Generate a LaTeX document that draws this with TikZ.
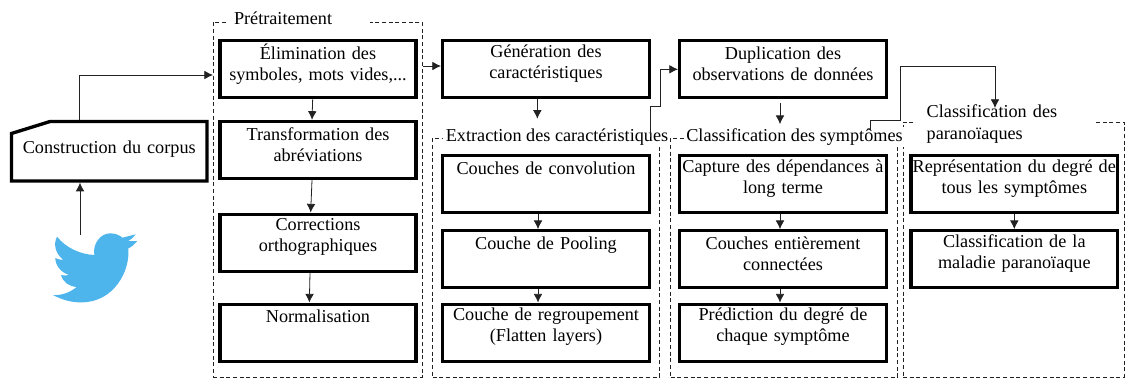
\documentclass[tikz,border=0pt]{standalone}
\usepackage{fontspec}
\setmainfont{Liberation Serif}
\usetikzlibrary{arrows.meta}
\definecolor{oiseau}{HTML}{4DB5EC}
\definecolor{trait}{HTML}{222222}
\tikzset{
	boite/.style={draw=black,line width=2.5pt,minimum height=42.75pt,inner sep=0pt,align=center,text width=155pt,font=\fontsize{13.65}{15.75}\selectfont,execute at end node={\par\vspace{8.4pt}}},
	etroite/.style={boite,text width=147pt},
	cadre/.style={draw=trait,line width=0.55pt,dash pattern=on 3pt off 2pt,inner sep=0pt},
	titre/.style={fill=white,inner ysep=1pt,inner xsep=2pt,align=left,font=\fontsize{13.65}{16.5}\selectfont},
	fleche/.style={draw=trait,line width=0.6pt,-{Latex[length=6.5pt,width=6.5pt]}}
}
\begin{document}
\begin{tikzpicture}[x=0.75pt,y=-0.75pt]
	\useasboundingbox (0,0) rectangle (1125,378);

	% dashed frames with their titles on top
	\path (317.5,199.5) node[cadre,minimum width=156.75pt,minimum height=266.25pt] (cadrepre) {};
	\path (298,18) node[titre,inner xsep=6pt,text width=96pt] (titrepre) {Prétraitement};
	\path (546,257.5) node[cadre,minimum width=170.25pt,minimum height=179.25pt] (cadreext) {};
	\path (557,137) node[titre] (titreext) {Extraction des caractéristiques};
	\path (784,257.5) node[cadre,minimum width=170.25pt,minimum height=179.25pt] (cadresym) {};
	\path (1013.5,249.5) node[cadre,minimum width=165.75pt,minimum height=191.25pt] (cadrepar) {};
	\path (794.5,137) node[titre] (titresym) {Classification des symptômes};
	\path (1004,124) node[titre,inner xsep=8.8pt,text width=115.9pt] (titrepar) {Classification des\\paranoïaques};

	% boxes
	\path (318,69.3) node[etroite] (elim) {Élimination des\\symboles, mots vides,...}
		(318,150) node[etroite] (transf) {Transformation des\\abréviations}
		(318,242.7) node[etroite] (correc) {Corrections\\orthographiques}
		(318,332.7) node[etroite] (normal) {Normalisation\\~};

	\path (546,69.3) node[boite] (gener) {Génération des\\caractéristiques}
		(546,184) node[boite] (convol) {Couches de convolution\\~}
		(546,259.3) node[boite] (pool) {Couche de Pooling\\~}
		(546,332.7) node[boite] (regroup) {Couche de regroupement\\(Flatten layers)};

	\path (783,69.3) node[boite] (duplic) {Duplication des\\observations de données}
		(783,184) node[boite] (capture) {Capture des dépendances à\\long terme}
		(783,259.3) node[boite] (couches) {Couches entièrement\\connectées}
		(783,332.7) node[boite] (predic) {Prédiction du degré de\\chaque symptôme};

	\path (1014.3,184) node[boite] (repres) {Représentation du degré de\\tous les symptômes}
		(1014.3,259.3) node[boite] (malad) {Classification de la\\maladie paranoïaque};

	% corpus box with its cut corner
	\path (109.25,151.2) node[boite,draw=none,outer sep=0pt,text width=146.6pt,minimum height=44.6pt] (corpus) {\rule{0pt}{15pt}Construction du corpus};
	\draw[line width=2.5pt] (corpus.south west) -- ([yshift=-9pt]corpus.north west) -- ([xshift=29pt]corpus.north west) -- (corpus.north east) -- (corpus.south east) -- cycle;

	% bird
	\begin{scope}[shift={(45,225)},x=0.25pt,y=-0.25pt]
		\fill[oiseau] (36,35) .. controls (62,68) and (105,88) .. (148,90)
			.. controls (142,55) and (168,25) .. (195,25)
			.. controls (210,25) and (224,30) .. (232,38)
			-- (272,28) .. controls (264,38) and (258,44) .. (250,48)
			-- (277,48) .. controls (268,58) and (260,66) .. (250,70)
			.. controls (256,140) and (205,232) .. (110,232)
			.. controls (80,233) and (50,224) .. (24,210)
			.. controls (50,212) and (76,202) .. (95,186)
			.. controls (72,184) and (54,172) .. (48,150)
			.. controls (56,152) and (64,152) .. (72,150)
			.. controls (48,142) and (31,122) .. (31,99)
			.. controls (38,103) and (46,105) .. (55,104)
			.. controls (32,88) and (24,58) .. (36,35) -- cycle;
	\end{scope}
	\coordinate (bird) at (80,235);
	\coordinate (entree) at (213,75);
	\coordinate (sortie) at (423,66);
	\coordinate (depart) at (650,137);
	\coordinate (coude) at (660,106);
	\coordinate (departb) at (870,130);
	\coordinate (coudeb) at (900,120);
	\coordinate (hautb) at (995,66);
	\coordinate (pointe) at (995,108);

	\draw[fleche] (bird) -- ([yshift=-1.3pt]bird |- corpus.south);
	\draw[fleche] ([xshift=-22.5pt,yshift=1.2pt]corpus.north) |- (entree);
	\draw[fleche] (sortie) -- (sortie -| gener.west);
	\draw[fleche] ([xshift=-4pt]elim.south) -- ([xshift=-4.5pt]transf.north);
	\draw[fleche] ([xshift=-4.5pt]transf.south) -- ([xshift=-5.5pt]correc.north);
	\draw[fleche] ([xshift=-6pt]correc.south) -- ([xshift=-6.5pt]normal.north);
	\draw[fleche] ([xshift=-6.5pt]gener.south) -- ++(0,-14.5pt);
	\draw[fleche] (depart) |- (coude) |- (duplic.west);
	\draw[fleche] ([xshift=-2.25pt,yshift=-3pt]duplic.south) -- ++(0,-15.5pt);
	\draw[fleche] ([xshift=-6pt]convol.south) -- ([xshift=-6pt]pool.north);
	\draw[fleche] ([xshift=-6pt]pool.south) -- ([xshift=-6pt]regroup.north);
	\draw[fleche] ([xshift=-2.25pt]capture.south) -- ([xshift=-2.25pt]couches.north);
	\draw[fleche] ([xshift=-2.25pt]couches.south) -- ([xshift=-2.25pt]predic.north);
	\draw[fleche] (departb) |- (coudeb) |- (hautb) -- (pointe);
	\draw[fleche] (repres.south) -- (malad.north);
\end{tikzpicture}
\end{document}
